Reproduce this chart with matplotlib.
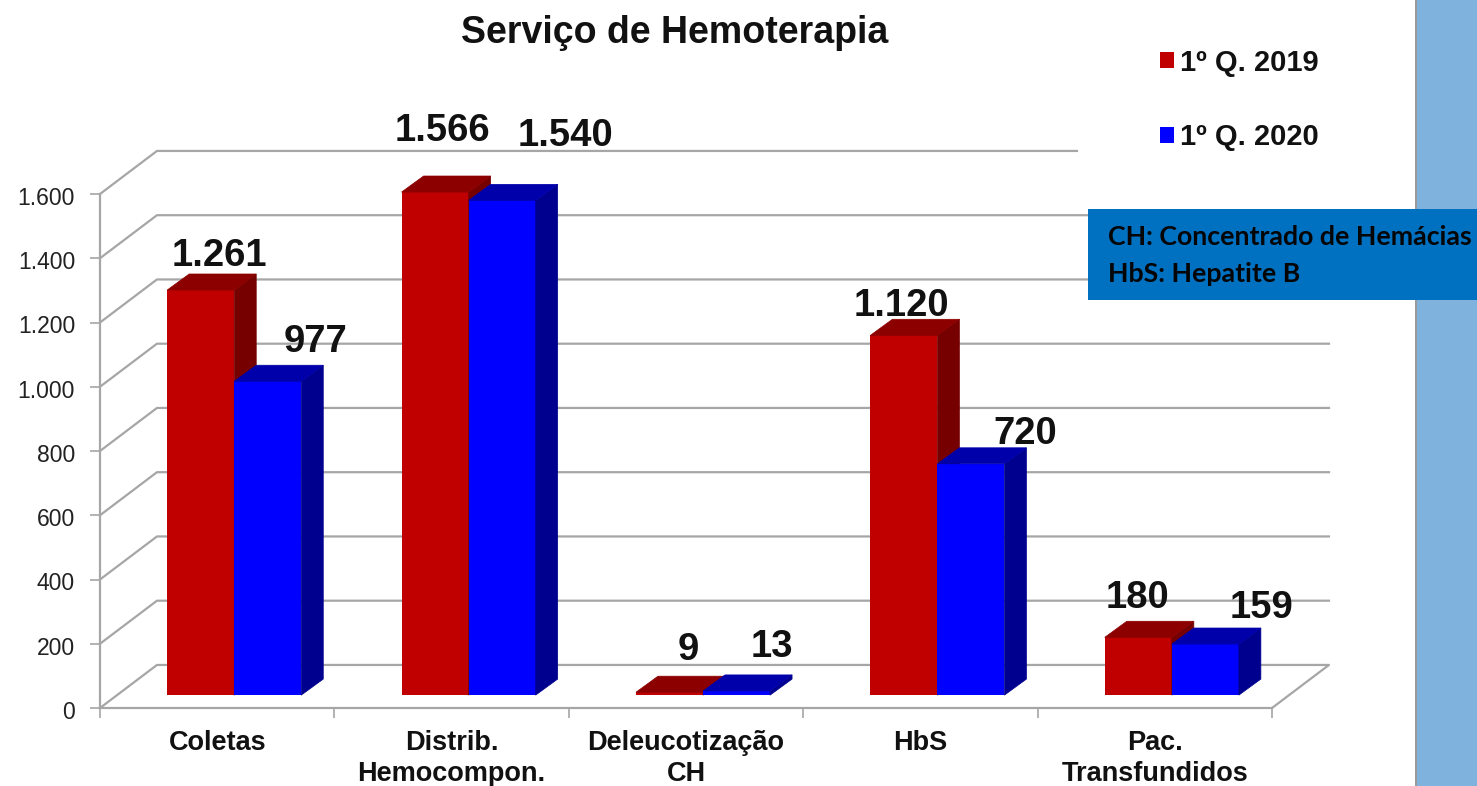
import numpy as np
import matplotlib
matplotlib.use('Agg')
import matplotlib.pyplot as plt
from matplotlib.patches import Rectangle
from matplotlib.transforms import ScaledTranslation

categorias = ['Coletas', 'Distrib.\nHemocompon.', 'Deleucotização\nCH', 'HbS', 'Pac.\nTransfundidos']
q1_2019 = [1261, 1566, 9, 1120, 180]
q1_2020 = [977, 1540, 13, 720, 159]
rotulos_2019 = ['1.261', '1.566', '9', '1.120', '180']
rotulos_2020 = ['977', '1.540', '13', '720', '159']
y_ticks = [0, 200, 400, 600, 800, 1000, 1200, 1400, 1600]
y_labels = ['0', '200', '400', '600', '800', '1.000', '1.200', '1.400', '1.600']

W, H = 1477, 786
plt.rcParams['font.family'] = ['Liberation Sans', 'DejaVu Sans']
fig = plt.figure(figsize=(W / 100, H / 100), dpi=100)


def fx(x):
    return x / W


def fy(y):
    return 1 - y / H


ax = fig.add_axes([fx(100), fy(708), (1272 - 100) / W, (708 - 194) / H])
ax.set_xlim(-0.5, 4.5)
ax.set_ylim(0, 1600)
ax.patch.set_alpha(0)

cinza = '#a6a6a6'
# depth of the walls and of the bars, in data units
wall_dx, wall_dy = 0.243, 134
bar_dx, bar_dy = 0.094, 50
base = 40
largura = 0.286
shift = 0.0725

for v in y_ticks:
    fim = 3.668 if v == 1600 else 4.5 + wall_dx
    xs = [-0.5, -0.5 + wall_dx, fim]
    ys = [v, v + wall_dy, v + wall_dy]
    if v == 0:
        xs.append(4.5)
        ys.append(0)
    ax.plot(xs, ys, color=cinza, lw=1.6, clip_on=False, zorder=1)


# bars stand on the floor, so heights are measured from the base line
def desenha(x, vals, front, side, top, nome):
    b = ax.bar(x, vals, largura, bottom=base, color=front, label=nome, zorder=3, clip_on=False)
    for xi, v in zip(x, vals):
        t = v + base
        l, r = xi - largura / 2, xi + largura / 2
        ax.fill([r, r + bar_dx, r + bar_dx, r], [base, base + bar_dy, t + bar_dy, t],
                color=side, lw=0.5, clip_on=False, zorder=3)
        ax.fill([l, l + bar_dx, r + bar_dx, r], [t, t + bar_dy, t + bar_dy, t],
                color=top, lw=0.5, clip_on=False, zorder=3)
    return b


pos = np.arange(5)
x1 = pos + shift - largura / 2
x2 = pos + shift + largura / 2
b1 = desenha(x1, q1_2019, '#c00000', '#760000', '#8c0000', '1º Q. 2019')
b2 = desenha(x2, q1_2020, '#0000ff', '#00008f', '#0000ab', '1º Q. 2020')

# value labels, offset by hand from the top of each bar
off_2019 = [(19, 34), (7, 61), (19, 42), (-2, 29), (-1, 39)]
off_2020 = [(48, 39), (63, 64), (35, 44), (54, 30), (56, 36)]
for x, vals, rots, offs in [(x1, q1_2019, rotulos_2019, off_2019), (x2, q1_2020, rotulos_2020, off_2020)]:
    for xi, v, r, o in zip(x, vals, rots, offs):
        ax.annotate(r, (xi, v + base), xytext=o, textcoords='offset pixels', ha='center', va='center',
                    fontsize=27.5, fontweight='bold', color='#111111', zorder=4, annotation_clip=False)

for s in ['top', 'right']:
    ax.spines[s].set_visible(False)
for s in ['left', 'bottom']:
    ax.spines[s].set_color(cinza)
    ax.spines[s].set_linewidth(1.6)

ax.set_yticks(y_ticks, labels=y_labels)
ax.tick_params(axis='y', length=7, width=1.2, color=cinza, pad=11, labelsize=16.5, labelcolor='#222222')
for t in ax.get_yticklabels():
    t.set_transform(t.get_transform() + ScaledTranslation(0, -2 / 100, fig.dpi_scale_trans))
ax.set_xticks(np.arange(6) - 0.5, labels=[])
ax.tick_params(axis='x', which='major', length=7, width=1.2, color=cinza)
ax.set_xticks(pos, labels=categorias, minor=True)
ax.tick_params(axis='x', which='minor', length=0, pad=15.5, labelsize=19.5)
for t in ax.get_xticklabels(minor=True):
    t.set_fontweight('bold')
    t.set_color('#111111')
    t.set_linespacing(1.28)

fig.text(fx(675), fy(33), 'Serviço de Hemoterapia', ha='center', va='center',
         fontsize=27, fontweight='bold', color='#111111')

fig.legend(handles=[b1, b2], loc='upper left', bbox_to_anchor=(fx(1145), fy(34)), frameon=False,
           handlelength=0.48, handleheight=0.48, handletextpad=0.22, labelspacing=1.6,
           borderpad=0, labelcolor='#111111', prop={'weight': 'bold', 'size': 21})

fig.add_artist(Rectangle((fx(1416), 0), (W - 1416) / W, 1, transform=fig.transFigure,
                         facecolor='#7fb3de', edgecolor='none', zorder=5))
fig.add_artist(Rectangle((fx(1414.5), 0), 2 / W, 1, transform=fig.transFigure,
                         facecolor='#9a9a9a', edgecolor='none', zorder=5))
fig.add_artist(Rectangle((fx(1088), fy(300)), (W - 1088) / W, 91 / H, transform=fig.transFigure,
                         facecolor='#0070c0', edgecolor='none', zorder=6))
fig.text(fx(1108), fy(237), 'CH: Concentrado de Hemácias', ha='left', va='center', family='Lato',
         fontsize=19.3, fontweight='bold', color='#050505', zorder=7)
fig.text(fx(1108), fy(274), 'HbS: Hepatite B', ha='left', va='center', family='Lato',
         fontsize=19.3, fontweight='bold', color='#050505', zorder=7)

fig.savefig('out.png', dpi=100)
